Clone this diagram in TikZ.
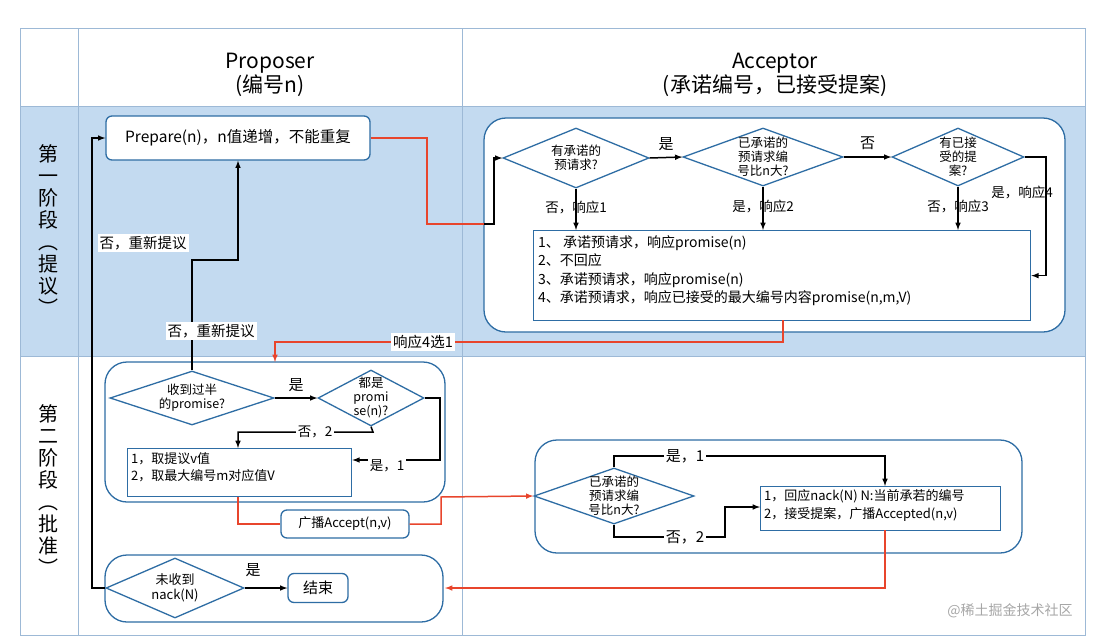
\documentclass[tikz,border=0pt]{standalone}
\usepackage{fontspec}
\setmainfont{Noto Sans CJK SC}
\usetikzlibrary{shapes.geometric}
\definecolor{bordblue}{HTML}{2E6DA4}
\definecolor{bandblue}{HTML}{C3DAF0}
\definecolor{lineblue}{HTML}{9DB9D6}
\definecolor{redline}{HTML}{E8452C}
\tikzstyle{box}=[rectangle, rounded corners=6pt, draw=bordblue, line width=1.3pt, fill=white, inner sep=4pt]
\tikzstyle{rbox}=[rectangle, draw=bordblue, line width=1.3pt, fill=white, inner sep=0pt, anchor=north west]
\tikzstyle{frame}=[rounded corners=22pt, draw=bordblue, line width=1.3pt, fill=white]
\tikzstyle{dia}=[diamond, draw=bordblue, line width=1.3pt, fill=white, inner sep=0pt]
\tikzstyle{lbl}=[fill=white, inner sep=2pt, font=\fontsize{13.5}{15}\selectfont]
\tikzstyle{edge}=[->, line width=1.5pt, >=latex]
\tikzstyle{redge}=[->, line width=1.5pt, >=latex, draw=redline]
\tikzstyle{rpipe}=[-, line width=1.5pt, draw=redline]

\begin{document}
\begin{tikzpicture}[x=1pt, y=-1pt, font=\fontsize{14}{17}\selectfont]
	\useasboundingbox (0,0) rectangle (1109,643);
	
	%The lanes
	\fill[bandblue] (20,106) rectangle (1085,356);
	\draw[lineblue] (20,28) rectangle (1085,635);
	\draw[lineblue] (78,28) -- (78,635);
	\draw[lineblue] (462,28) -- (462,635);
	\draw[lineblue] (20,106) -- (1085,106);
	\draw[lineblue] (20,356) -- (1085,356);
	
	\draw (270,75) node[align=center, font=\fontsize{21}{24}\selectfont] (hprop) {Proposer\\(编号n)};
	\draw (775,75) node[align=center, font=\fontsize{21}{24}\selectfont] (hacc) {Acceptor\\(承诺编号，已接受提案)};
	\draw (48,230) node[align=center, font=\fontsize{20}{22}\selectfont] (ph1) {第\\一\\阶\\段\\︵\\提\\议\\︶};
	\draw (48,490) node[align=center, font=\fontsize{20}{22}\selectfont] (ph2) {第\\二\\阶\\段\\︵\\批\\准\\︶};
	
	%The frames
	\draw[frame] (484,118) rectangle (1065,332);
	\draw[frame] (105,362) rectangle (445,502);
	\draw[frame] (535,440) rectangle (1022,553);
	\draw[frame] (105,555) rectangle (443,622);
	
	%The first phase
	\draw (238,138) node[box, minimum height=44pt, minimum width=264pt, font=\fontsize{15.5}{18}\selectfont] (prep) {Prepare(n)，n值递增，不能重复};
	\draw (576,158) node[dia, minimum width=146pt, minimum height=60pt,
		label={[align=center, font=\fontsize{12.5}{14}\selectfont]center:有承诺的\\预请求?}] (d1) {};
	\draw (763,157) node[dia, minimum width=160pt, minimum height=58pt,
		label={[align=center, font=\fontsize{12.5}{14}\selectfont]center:已承诺的\\预请求编\\号比n大?}] (d2) {};
	\draw (958,157) node[dia, minimum width=132pt, minimum height=58pt,
		label={[align=center, font=\fontsize{12.5}{14}\selectfont]center:有已接\\受的提\\案?}] (d3) {};
	\draw (533,230) node[rbox, minimum width=497pt, minimum height=90pt] (resp) {};
	\draw (538,235) node[anchor=north west, align=left, inner sep=0pt, font=\fontsize{14}{18.5}\selectfont] (resptext)
		{1、 承诺预请求，响应promise(n)\\2、不回应\\3、承诺预请求，响应promise(n)\\4、承诺预请求，响应已接受的最大编号内容promise(n,m,V)};
	\coordinate (in1) at (484,224);
	\coordinate (c4) at (1046,157);
	
	\draw[edge] (d1.east) -- (d2.west) node[midway, above=3pt, font=\fontsize{15}{17}\selectfont] {是};
	\draw[edge] (d2.east) -- (d3.west) node[midway, above=3pt, font=\fontsize{15}{17}\selectfont] {否};
	\draw[edge] (d1.south) -- (d1.south |- resp.north) node[pos=0.45, lbl, fill opacity=0, text opacity=1] {否，响应1};
	\draw[edge] (d2.south) -- (d2.south |- resp.north) node[pos=0.45, lbl, fill opacity=0, text opacity=1] {是，响应2};
	\draw[edge] (d3.south) -- (d3.south |- resp.north) node[pos=0.45, lbl, fill opacity=0, text opacity=1] {否，响应3};
	\draw[edge] (d3.east) -- (c4) -- (c4 |- resp.east) -- (resp.east);
	\draw (1022,192) node[lbl, fill=bandblue!0, fill opacity=0, text opacity=1] (l4) {是，响应4};
	\draw[rpipe] (prep.east) -- (427,138) -- (427,224) -- (in1);
	\draw[edge] (in1) -- (494,224) -- (494,158) -- (d1.west);
	
	%The second phase, proposer
	\draw (192,398) node[dia, minimum width=164pt, minimum height=54pt,
		label={[align=center, font=\fontsize{12.5}{14}\selectfont]center:收到过半\\的promise?}] (d4) {};
	\draw (371,398) node[dia, minimum width=106pt, minimum height=56pt,
		label={[align=center, font=\fontsize{12.5}{14}\selectfont]center:都是\\promi\\se(n)?}] (d5) {};
	\draw (127,448) node[rbox, minimum width=224pt, minimum height=48pt] (pick) {};
	\draw (131,452) node[anchor=north west, align=left, inner sep=0pt, font=\fontsize{13}{17}\selectfont] (picktext)
		{1，取提议v值\\2，取最大编号m对应值V};
	\draw (345,524) node[box, minimum width=128pt, minimum height=28pt, inner sep=2pt, font=\fontsize{13}{15}\selectfont] (bcast) {广播Accept(n,v)};
	\draw (175,588) node[dia, minimum width=138pt, minimum height=60pt,
		label={[align=center, font=\fontsize{13}{15}\selectfont]center:未收到\\nack(N)}] (d6) {};
	\draw (318,588) node[box, minimum width=60pt, minimum height=29pt, font=\fontsize{15}{17}\selectfont] (done) {结束};
	
	\draw[edge] (d4.east) -- (d5.west) node[midway, above=2pt, font=\fontsize{15}{17}\selectfont] {是};
	\draw[edge] (d5.south) -- (373,432) -- (238,432) -- (238,448);
	\draw (315,432) node[lbl] (l5) {否，2};
	\draw[edge] (d5.east) -- (440,398) -- (440,460) -- (pick.east |- 0,460);
	\draw (387,466) node[lbl] (l6) {是，1};
	\draw[edge] (d4.north) -- (192,260) -- (238,260) -- (prep.south);
	\draw (211,331) node[lbl, font=\fontsize{14.5}{17}\selectfont] (l7) {否，重新提议};
	\draw[edge] (d6.west) -- (92,588) -- (92,138) -- (prep.west);
	\draw (143,243) node[lbl, font=\fontsize{14.5}{17}\selectfont] (l8) {否，重新提议};
	\draw[edge] (d6.east) -- (done.west);
	\draw (253,570) node[font=\fontsize{15}{17}\selectfont] (l9) {是};
	\draw[rpipe] (pick.south -| 238,0) -- (238,524) -- (bcast.west);
	
	%The second phase, acceptor
	\draw (614,496) node[dia, minimum width=160pt, minimum height=56pt,
		label={[align=center, font=\fontsize{12.5}{14}\selectfont]center:已承诺的\\预请求编\\号比n大?}] (d7) {};
	\draw (760,486) node[rbox, minimum width=240pt, minimum height=44pt] (ans) {};
	\draw (764,489) node[anchor=north west, align=left, inner sep=0pt, font=\fontsize{13}{18}\selectfont] (anstext)
		{1，回应nack(N) N:当前承若的编号\\2，接受提案，广播Accepted(n,v)};
	\coordinate (in2) at (445,588);
	
	\draw[edge] (d7.north) -- (614,456) -- (885,456) -- (885,486);
	\draw (685,456) node[lbl, font=\fontsize{15}{17}\selectfont] (l10) {是，1};
	\draw[edge] (d7.south) -- (614,537) -- (725,537) -- (725,507) -- (760,507);
	\draw (685,537) node[lbl, font=\fontsize{15}{17}\selectfont] (l11) {否，2};
	\draw[redge] (bcast.east) -- (441,524) -- (441,497) -- (d7.west);
	\draw[redge] (885,530) -- (885,588) -- (in2);
	\draw[redge] (783,320) -- (783,342) -- (275,342) -- (275,362);
	\draw (423,342) node[lbl, font=\fontsize{14.5}{17}\selectfont] (l12) {响应4选1};
	
	\draw (1010,611) node[text=gray!70, font=\fontsize{14}{16}\selectfont] (mark) {@稀土掘金技术社区};
\end{tikzpicture}
\end{document}
